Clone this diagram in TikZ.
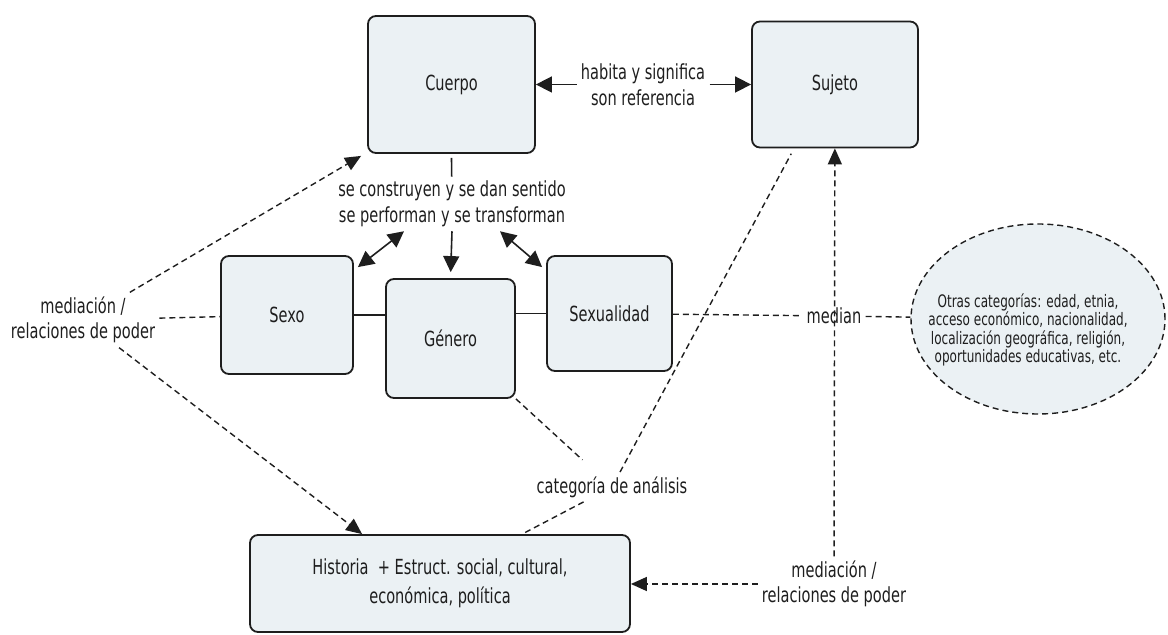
\documentclass[tikz,border=0pt]{standalone}
\usepackage{fontspec}
\setmainfont{DejaVu Sans}[FakeStretch=0.7]
\usepackage{tikz}
\usetikzlibrary{shapes,arrows.meta,positioning,calc}
\definecolor{cajafondo}{RGB}{235,241,244}
\definecolor{tinta}{RGB}{30,30,30}

\begin{document}
\begin{tikzpicture}[x=0.5pt, y=-0.5pt,
    font=\fontsize{10.4}{12.8}\selectfont, text=tinta,
    caja/.style={draw=tinta, line width=0.9pt, rounded corners=4pt, fill=cajafondo, inner sep=0pt, align=center},
    etiqueta/.style={align=center, inner sep=2pt},
    linea/.style={draw=tinta, line width=0.8pt},
    flecha/.style={linea, -{Triangle[length=8pt,width=8pt]}},
    dobleflecha/.style={linea, {Triangle[length=8pt,width=8pt]}-{Triangle[length=8pt,width=8pt]}},
    discont/.style={draw=tinta, line width=0.7pt, dash pattern=on 3pt off 2pt},
    dflecha/.style={discont, -{Triangle[length=8pt,width=7pt]}}]
    \useasboundingbox (0,0) rectangle (1168,635);

    % Cajas principales
    \foreach \nombre/\texto/\x/\y/\ancho/\alto in {cuerpo/Cuerpo/451.5/84.5/83.5/68.5,
        sujeto/Sujeto/835/84.5/83/63, sexo/Sexo/287/315/66/59,
        genero/Género/450.5/338.5/64.5/59.5, sexualidad/Sexualidad/609.5/313.5/62.5/57.5} {
        \node[caja, minimum width=\ancho pt, minimum height=\alto pt] (\nombre) at (\x,\y) {\texto};
    }
    \node[caja, minimum width=190pt, minimum height=48.5pt, font=\fontsize{10.4}{14.5}\selectfont]
        (historia) at (440,583.5) {Historia~ + Estruct. social, cultural,\\económica, política};

    % Otras categorias
    \node[draw=tinta, ellipse, fill=cajafondo, line width=0.7pt, dash pattern=on 3pt off 2pt,
        minimum width=127pt, minimum height=95pt] (otras) at (1038,319) {};
    \node[align=center, font=\fontsize{8.6}{9.2}\selectfont] (otrastexto) at (1028,330)
        {Otras categorías: edad, etnia,\\acceso económico, nacionalidad,\\localización geográfica, religión,\\oportunidades educativas, etc.};

    % Etiquetas
    \node[etiqueta] (habita) at (643,84.5) {habita y significa\\son referencia};
    \node[etiqueta] (construyen) at (452,204) {se construyen y se dan sentido\\se performan y se transforman};
    \node[etiqueta] (medizq) at (83,320) {mediación /\\relaciones de poder};
    \node[etiqueta] (categoria) at (612,487) {categoría de análisis};
    \node[etiqueta] (median) at (834,316) {median};
    \node[etiqueta] (medder) at (834,584) {mediación /\\relaciones de poder};

    % Relaciones con flechas llenas
    \draw[flecha] (habita) -- (cuerpo);
    \draw[flecha] (habita) -- (sujeto);
    \draw[linea] ([yshift=-2pt]cuerpo.south) -- (construyen);
    \draw[dobleflecha] ([xshift=-24pt]construyen.south) -- ([shift={(2pt,-6pt)}]sexo.north east);
    \draw[dobleflecha] ([xshift=24pt]construyen.south) -- ([shift={(-2pt,-6pt)}]sexualidad.north west);
    \draw[flecha, shorten >=3pt] (construyen.south) -- (genero.north);
    \draw[linea] (sexo) -- (sexo -| genero.west);
    \draw[linea] (sexualidad) -- (sexualidad -| genero.east);

    % Mediaciones (discontinuas)
    \draw[discont] (medizq) -- (sexo);
    \draw[dflecha] (medizq) -- ([shift={(-3pt,-1pt)}]cuerpo.south west);
    \draw[dflecha] (medizq) -- ([xshift=56.5pt]historia.north west);
    \draw[discont, shorten >=9pt] (genero.south east) -- (categoria);
    \draw[discont] (categoria) -- ([xshift=136.5pt]historia.north west);
    \draw[discont, shorten >=3pt] (categoria) -- ([xshift=21.5pt]sujeto.south west);
    \draw[discont] (sexualidad) -- (median);
    \draw[discont] (median) -- (otras);
    \draw[dflecha] (medder) -- (sujeto);
    \draw[dflecha] (medder) -- (medder -| historia.east);
\end{tikzpicture}
\end{document}
